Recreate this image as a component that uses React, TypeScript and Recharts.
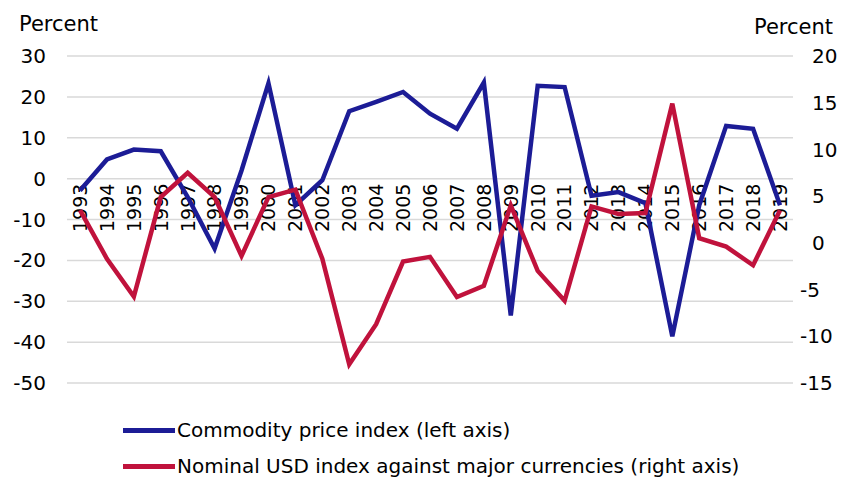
import React from "react";
import {
  LineChart,
  Line,
  XAxis,
  YAxis,
  CartesianGrid,
  ReferenceDot,
  Legend,
} from "recharts";

const years = [
  1993, 1994, 1995, 1996, 1997, 1998, 1999, 2000, 2001, 2002, 2003, 2004, 2005,
  2006, 2007, 2008, 2009, 2010, 2011, 2012, 2013, 2014, 2015, 2016, 2017, 2018,
  2019,
];

// left axis, percent
const commodity = [
  -2.9, 4.7, 7.1, 6.7, -4.5, -17.1, 2, 23.3, -6.5, -0.4, 16.5, 18.8, 21.2, 15.9,
  12.2, 23.5, -33.5, 22.7, 22.4, -4.2, -3.3, -6.0, -38.6, -6.5, 12.9, 12.2, -6.5,
];

// right axis, percent
const usd = [
  3.5, -1.7, -5.75, 4.9, 7.5, 4.9, -1.4, 4.9, 5.7, -1.7, -13.0, -8.7, -2.0,
  -1.5, -5.8, -4.6, 4.0, -3.0, -6.2, 3.9, 3.1, 3.2, 14.9, 0.5, -0.4, -2.4, 3.5,
];

const leftTicks = [30, 20, 10, 0, -10, -20, -30, -40, -50];
const rightTicks = [20, 15, 10, 5, 0, -5, -10, -15];

const data = years.map((year, i) => ({
  year,
  commodity: commodity[i],
  usd: usd[i],
}));

const FONT = "'DejaVu Sans', sans-serif";
const BLUE = "#1c1c96";
const RED = "#c0123c";

function YearLabel(props: any) {
  const { cx, cy, year } = props;
  const ax = cx;
  const ay = cy + 5;
  return (
    <text
      x={ax}
      y={ay}
      dy="0.36em"
      textAnchor="end"
      fontSize={19}
      fontFamily={FONT}
      fill="#000"
      transform={`rotate(-90, ${ax}, ${ay})`}
    >
      {year}
    </text>
  );
}

function RightTick(props: any) {
  const { x, y, payload } = props;
  return (
    <text
      x={x - (payload.value < 0 ? 12 : 0)}
      y={y}
      dy="0.36em"
      textAnchor="start"
      fontSize={20}
      fontFamily={FONT}
      fill="#000"
    >
      {payload.value}
    </text>
  );
}

function renderLegend(props: any) {
  const { payload } = props;
  return (
    <div style={{ fontFamily: FONT }}>
      {(payload || []).map((entry: any) => (
        <div
          key={entry.value}
          style={{ display: "flex", alignItems: "center", height: 36 }}
        >
          <div
            style={{
              marginLeft: 123,
              width: 52,
              height: 5,
              background: entry.color,
            }}
          />
          <span style={{ marginLeft: 2, fontSize: 20, color: "#000" }}>
            {entry.value}
          </span>
        </div>
      ))}
    </div>
  );
}

export default function App() {
  return (
    <div
      style={{
        position: "absolute",
        left: 0,
        top: 0,
        width: 843,
        height: 478,
        background: "#fff",
        fontFamily: FONT,
      }}
    >
      <div
        style={{
          position: "absolute",
          left: 19,
          top: 12,
          fontSize: 21,
          lineHeight: "24px",
        }}
      >
        Percent
      </div>
      <div
        style={{
          position: "absolute",
          left: 754,
          top: 15,
          fontSize: 21,
          lineHeight: "24px",
        }}
      >
        Percent
      </div>
      <LineChart
        width={843}
        height={478}
        data={data}
        margin={{ top: 56, right: 0, bottom: 23, left: 0 }}
      >
        <CartesianGrid
          yAxisId="left"
          vertical={false}
          stroke="#d9d9d9"
          strokeWidth={1.5}
        />
        <XAxis dataKey="year" hide padding={{ left: 13, right: 13 }} />
        <YAxis
          yAxisId="left"
          domain={[-50, 30]}
          ticks={leftTicks}
          width={67}
          axisLine={false}
          tickLine={false}
          tickSize={0}
          tickMargin={21}
          tick={{ fontSize: 20, fill: "#000", fontFamily: FONT }}
          interval={0}
        />
        <YAxis
          yAxisId="right"
          orientation="right"
          domain={[-15, 20]}
          ticks={rightTicks}
          width={50}
          axisLine={false}
          tickLine={false}
          tickSize={0}
          tickMargin={19}
          tick={<RightTick />}
          interval={0}
        />
        {years.map((y) => (
          <ReferenceDot
            key={y}
            x={y}
            y={0}
            yAxisId="left"
            r={0}
            zIndex={0}
            shape={(p: any) => <YearLabel {...p} year={y} />}
          />
        ))}
        <Line
          yAxisId="left"
          type="linear"
          dataKey="commodity"
          name="Commodity price index (left axis)"
          stroke={BLUE}
          strokeWidth={4.5}
          dot={false}
          isAnimationActive={false}
        />
        <Line
          yAxisId="right"
          type="linear"
          dataKey="usd"
          name="Nominal USD index against major currencies (right axis)"
          stroke={RED}
          strokeWidth={4.5}
          dot={false}
          isAnimationActive={false}
        />
        <Legend
          content={renderLegend}
          wrapperStyle={{ position: "absolute", left: 0, top: 412, width: 843 }}
        />
      </LineChart>
    </div>
  );
}
